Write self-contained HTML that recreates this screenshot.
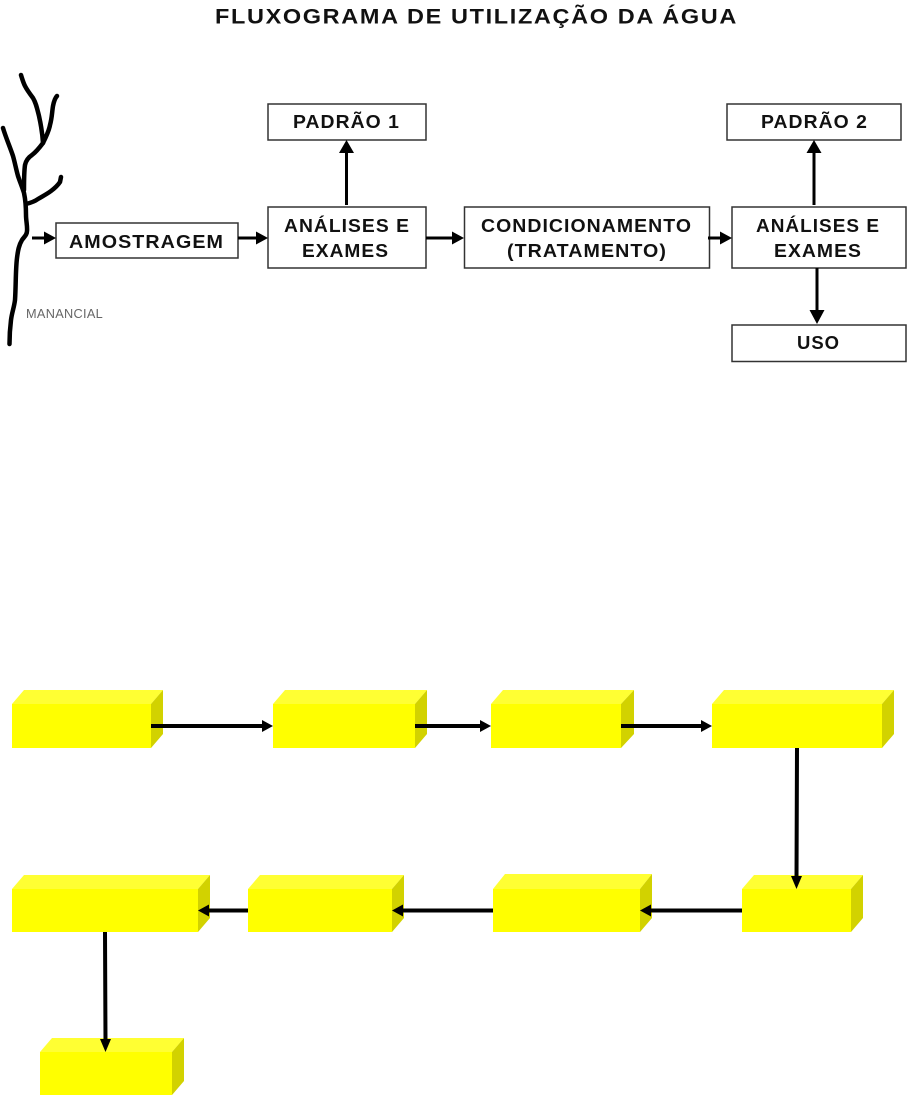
<!DOCTYPE html>
<html lang="pt">
<head>
<meta charset="utf-8">
<title>Fluxograma de utilização da água</title>
<style>
html,body{margin:0;padding:0;background:#fff;width:909px;height:1096px;overflow:hidden}
svg{display:block}
text{font-family:"Liberation Sans",Arial,sans-serif;fill:#111}
.b{font-weight:bold;font-size:18.500px;letter-spacing:1px}
.r{fill:#fff;stroke:#333;stroke-width:1.5}
.l{stroke:#000;stroke-width:3;fill:none}
.t{stroke:#000;stroke-width:4;fill:none}
.river{stroke:#000;stroke-width:4.5;fill:none;stroke-linecap:round;stroke-linejoin:round}
.f{fill:#ffff00}.u{fill:#ffff33}.s{fill:#d2d200}
</style>
</head>
<body>
<svg width="909" height="1096" viewBox="0 0 909 1096" xmlns="http://www.w3.org/2000/svg">
<rect width="909" height="1096" fill="#fff"/>
<text x="215" y="23.500" font-size="21.500" font-weight="bold" letter-spacing="1.500" textLength="523" lengthAdjust="spacingAndGlyphs">FLUXOGRAMA DE UTILIZAÇÃO DA ÁGUA</text>

<!-- river -->
<path class="river" d="M9.500 344C9.500 335 10 328 11 320C12 312 14 308 15 300C16 285 15.500 270 17 258C18 250 19 245 22 240C24 237 27 235 27 231C27.500 226 26 221 26 215C26 208 25.500 200 24 193C22.500 188 20 182 18 176C16 169 15 163 13 156C10 147 6 138 3 128"/>
<path class="river" d="M24 190C24 182 24 172 25 165C26 160 29 157 32 155C36 152 40 147 43 143C42.500 135 41 125 39 116C37 108 36 103 33 98C30 94 27 90 25 86C23 82 22 78 21 75"/>
<path class="river" d="M43 143C46 137 49 131 50 125C52 118 52 112 53 106C54 101 55 98 57 96"/>
<path class="river" d="M26 204C30 203 34 202 38 199C43 196 47 194 51 191C55 188 58 185 60 182L61 177"/>
<text x="26" y="318" font-size="12.500" letter-spacing="0.300" textLength="77" lengthAdjust="spacingAndGlyphs" style="fill:#666">MANANCIAL</text>

<!-- top boxes -->
<rect class="r" x="56" y="223" width="182" height="35"/>
<rect class="r" x="268" y="104" width="158" height="36"/>
<rect class="r" x="268" y="207" width="158" height="61"/>
<rect class="r" x="464.500" y="207" width="245" height="61"/>
<rect class="r" x="732" y="207" width="174" height="61"/>
<rect class="r" x="727" y="104" width="174" height="36"/>
<rect class="r" x="732" y="325" width="174" height="36.500"/>

<text class="b" x="69" y="248" textLength="155" lengthAdjust="spacingAndGlyphs">AMOSTRAGEM</text>
<text class="b" x="293" y="128" textLength="107" lengthAdjust="spacingAndGlyphs">PADRÃO 1</text>
<text class="b" x="284" y="232" textLength="126" lengthAdjust="spacingAndGlyphs">ANÁLISES E</text>
<text class="b" x="302" y="257" textLength="87" lengthAdjust="spacingAndGlyphs">EXAMES</text>
<text class="b" x="481" y="232" textLength="211" lengthAdjust="spacingAndGlyphs">CONDICIONAMENTO</text>
<text class="b" x="507" y="257" textLength="160" lengthAdjust="spacingAndGlyphs">(TRATAMENTO)</text>
<text class="b" x="756" y="232" textLength="124" lengthAdjust="spacingAndGlyphs">ANÁLISES E</text>
<text class="b" x="774" y="257" textLength="88" lengthAdjust="spacingAndGlyphs">EXAMES</text>
<text class="b" x="761" y="128" textLength="107" lengthAdjust="spacingAndGlyphs">PADRÃO 2</text>
<text class="b" x="797" y="349" textLength="43" lengthAdjust="spacingAndGlyphs">USO</text>

<!-- top arrows -->
<path class="l" d="M32 238H46M238 238H258M426 238H454M708 238H722M346.500 205V150M814 205V150M817 268V312"/>
<path d="M56 238L44 231.500V244.500ZM268 238L256 231.500V244.500ZM464 238L452 231.500V244.500ZM732 238L720 231.500V244.500Z"/>
<path d="M346.500 140L339 153H354ZM814 140L806.500 153H821.500ZM817 324L809.500 310H824.500Z"/>

<!-- 3D boxes -->
<g>
<path class="u" d="M12 704L24 690H163L151 704Z"/><path class="s" d="M151 704L163 690V734L151 748Z"/><rect class="f" x="12" y="704" width="139" height="44"/>
<path class="u" d="M273 704L285 690H427L415 704Z"/><path class="s" d="M415 704L427 690V734L415 748Z"/><rect class="f" x="273" y="704" width="142" height="44"/>
<path class="u" d="M491 704L503 690H634L621 704Z"/><path class="s" d="M621 704L634 690V734L621 748Z"/><rect class="f" x="491" y="704" width="130" height="44"/>
<path class="u" d="M712 704L724 690H894L882 704Z"/><path class="s" d="M882 704L894 690V734L882 748Z"/><rect class="f" x="712" y="704" width="170" height="44"/>

<path class="u" d="M12 889L24 875H210L198 889Z"/><path class="s" d="M198 889L210 875V918L198 932Z"/><rect class="f" x="12" y="889" width="186" height="43"/>
<path class="u" d="M248 889L260 875H404L392 889Z"/><path class="s" d="M392 889L404 875V918L392 932Z"/><rect class="f" x="248" y="889" width="144" height="43"/>
<path class="u" d="M493 889L505 874H652L640 889Z"/><path class="s" d="M640 889L652 874V918L640 932Z"/><rect class="f" x="493" y="889" width="147" height="43"/>
<path class="u" d="M742 889L754 875H863L851 889Z"/><path class="s" d="M851 889L863 875V918L851 932Z"/><rect class="f" x="742" y="889" width="109" height="43"/>

<path class="u" d="M40 1052L52 1038H184L172 1052Z"/><path class="s" d="M172 1052L184 1038V1081L172 1095Z"/><rect class="f" x="40" y="1052" width="132" height="43"/>
</g>

<!-- bottom arrows -->
<path class="t" d="M151 726H264M415 726H482M621 726H703M797 748L796.500 878M742 910.500H648M493 910.500H400M248 910.500H207M105 932L105.500 1042"/>
<path d="M273 726L262 720V732ZM491 726L480 720V732ZM712 726L701 720V732ZM796.500 889L791 876H802ZM640 910.500L651 904.500V916.500ZM392 910.500L403 904.500V916.500ZM198 910.500L209 904.500V916.500ZM105.500 1052L100 1039H111Z"/>
</svg>
</body>
</html>
